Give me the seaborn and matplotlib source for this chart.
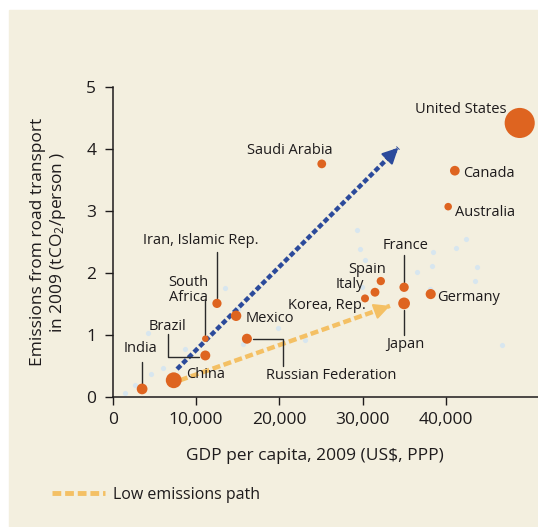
import matplotlib.pyplot as plt
import seaborn as sns
import pandas as pd
from matplotlib.patches import Rectangle
from matplotlib.lines import Line2D
from matplotlib.ticker import FuncFormatter

# highlighted countries: GDP per capita (US$ PPP), road transport CO2 per person, total road CO2 (Mt)
countries = ["United States", "Canada", "Australia", "Saudi Arabia", "France", "Japan",
             "Germany", "Spain", "Italy", "Korea, Rep.", "Iran, Islamic Rep.", "Mexico",
             "Russian Federation", "South Africa", "Brazil", "China", "India"]
gdp = [48900, 41100, 40300, 25100, 35000, 35000, 38200, 32200, 31500, 30300,
       12500, 14800, 16100, 11100, 11100, 7300, 3500]
emissions = [4.42, 3.65, 3.07, 3.76, 1.77, 1.51, 1.66, 1.87, 1.69, 1.59,
             1.51, 1.31, 0.94, 0.94, 0.67, 0.27, 0.13]
total_mt = [1350, 124, 68, 98, 113, 190, 136, 86, 101, 78,
            110, 146, 133, 46, 131, 360, 156]

# other countries (faint background points)
other_gdp = [13500, 4200, 8700, 4600, 6000, 19800, 15600, 15000, 2600, 1400,
             38500, 41300, 42500, 43800, 43500, 38100, 38300, 36500, 29300, 29700,
             30300, 29900, 46800, 23100]
other_emissions = [1.76, 1.03, 0.77, 0.37, 0.47, 1.11, 0.85, 1.42, 0.19, 0.06,
                   2.34, 2.40, 2.55, 2.10, 1.87, 1.74, 2.11, 2.02, 2.69, 2.39,
                   2.21, 1.77, 0.84, 0.92]

# development paths (start, end)
high_path_gdp = [7700, 34300]
high_path_em = [0.45, 4.02]
low_path_gdp = [8050, 33300]
low_path_em = [0.27, 1.47]

df = pd.DataFrame({"country": countries, "gdp": gdp, "em": emissions, "total": total_mt})
others = pd.DataFrame({"gdp": other_gdp, "em": other_emissions})

bg = "#f3efdf"
orange = "#de6420"
blue = "#2b4a9b"
yellow = "#f4c064"
ink = "#1e1b1c"

sns.set_theme(style="ticks")
plt.rcParams["font.family"] = ["Open Sans", "DejaVu Sans"]
plt.rcParams["mathtext.default"] = "regular"

fig = plt.figure(figsize=(5.38, 5.27), dpi=100)
fig.patch.set_facecolor("white")
fig.patches.append(Rectangle((9 / 538, 0), 1, 517 / 527, transform=fig.transFigure,
                             color=bg, zorder=-10))
ax = fig.add_axes([113 / 538, 1 - 397 / 527, 425 / 538, 310 / 527])
ax.set_facecolor("none")

sns.scatterplot(data=others, x="gdp", y="em", ax=ax, color="#d3e5f3", s=14,
                linewidth=0, alpha=0.85, legend=False, zorder=1)

# paths
ax.plot(high_path_gdp, high_path_em, color=blue, lw=3.2, dashes=(1.2, 0.6),
        solid_capstyle="butt", zorder=2)
ax.annotate("", xy=(high_path_gdp[1], high_path_em[1]),
            xytext=(high_path_gdp[1] - 1200, high_path_em[1] - 0.16),
            arrowprops=dict(arrowstyle="-|>,head_length=0.8,head_width=0.4",
                            color=blue, lw=1.5, shrinkA=0, shrinkB=0), zorder=3)
ax.plot(low_path_gdp, low_path_em, color=yellow, lw=3.2, dashes=(1.8, 0.8),
        solid_capstyle="butt", zorder=2)
ax.annotate("", xy=(low_path_gdp[1], low_path_em[1]),
            xytext=(low_path_gdp[1] - 1600, low_path_em[1] - 0.08),
            arrowprops=dict(arrowstyle="-|>,head_length=0.8,head_width=0.4",
                            color=yellow, lw=1.5, shrinkA=0, shrinkB=0), zorder=3)

sns.scatterplot(data=df, x="gdp", y="em", size="total", sizes=(20, 470),
                size_norm=(40, 1350), color=orange, linewidth=0, legend=False,
                ax=ax, zorder=4)

# label layout: text position (data coords), alignment, optional leader line
labels = {
    "United States": ((41800, 4.63), "center", None),
    "Canada": ((42100, 3.61), "left", None),
    "Australia": ((41100, 2.97), "left", None),
    "Saudi Arabia": ((21200, 3.98), "center", None),
    "France": ((35200, 2.45), "center", [(35000, 2.29), (35000, 1.86)]),
    "Japan": ((35200, 0.84), "center", [(35000, 1.40), (35000, 1.0)]),
    "Germany": ((39000, 1.60), "left", None),
    "Spain": ((30600, 2.06), "center", None),
    "Italy": ((28500, 1.81), "center", None),
    "Korea, Rep.": ((25700, 1.47), "center", None),
    "Iran, Islamic Rep.": ((10600, 2.53), "center", [(12500, 2.34), (12500, 1.60)]),
    "Mexico": ((15900, 1.27), "left", None),
    "Russian Federation": ((26200, 0.34), "center",
                           [(16800, 0.935), (20400, 0.935), (20400, 0.50)]),
    "South Africa": ((9100, 1.73), "center", [(11050, 1.56), (11050, 1.00)]),
    "Brazil": ((6600, 1.145), "center", [(6600, 1.02), (6600, 0.645), (10300, 0.645)]),
    "China": ((8800, 0.355), "left", None),
    "India": ((3250, 0.79), "center", [(3500, 0.565), (3500, 0.19)]),
}
for name, (pos, ha, leader) in labels.items():
    text = "South\nAfrica" if name == "South Africa" else name
    ax.text(pos[0], pos[1], text, ha=ha, va="center", fontsize=10.5, color=ink,
            linespacing=1.0, zorder=5)
    if leader:
        xs, ys = zip(*leader)
        ax.plot(xs, ys, color="#2a2a2a", lw=1.0, zorder=3)

ax.set_xlim(0, 51100)
ax.set_ylim(0, 5)
ax.set_xticks([0, 10000, 20000, 30000, 40000])
ax.set_yticks([0, 1, 2, 3, 4, 5])
ax.xaxis.set_major_formatter(FuncFormatter(lambda v, p: f"{int(v):,}"))
ax.tick_params(axis="both", length=6, width=1, colors=ink, labelsize=12.5, direction="out")
ax.tick_params(axis="y", pad=6)
ax.tick_params(axis="x", pad=5)
for side in ["top", "right"]:
    ax.spines[side].set_visible(False)
for side in ["left", "bottom"]:
    ax.spines[side].set_color(ink)
    ax.spines[side].set_linewidth(1.1)

ax.set_xlabel("GDP per capita, 2009 (US$, PPP)", fontsize=12.5, color=ink, ha="center", va="top")
ax.xaxis.set_label_coords(0.475, -0.165)
ax.set_ylabel("Emissions from road transport\nin 2009 (tCO$_2$/person )", fontsize=12.5,
              color=ink, linespacing=1.15)
ax.yaxis.set_label_coords(-0.106, 0.5)

handle = Line2D([], [], color=yellow, lw=3.5, dashes=(1.8, 0.8))
fig.legend([handle], ["Low emissions path"], loc="center left",
           bbox_to_anchor=(38 / 538, 1 - 495 / 527), frameon=False, fontsize=11.5,
           handlelength=3.3, handletextpad=0.5, labelcolor=ink)

fig.savefig("out.png", dpi=100)
